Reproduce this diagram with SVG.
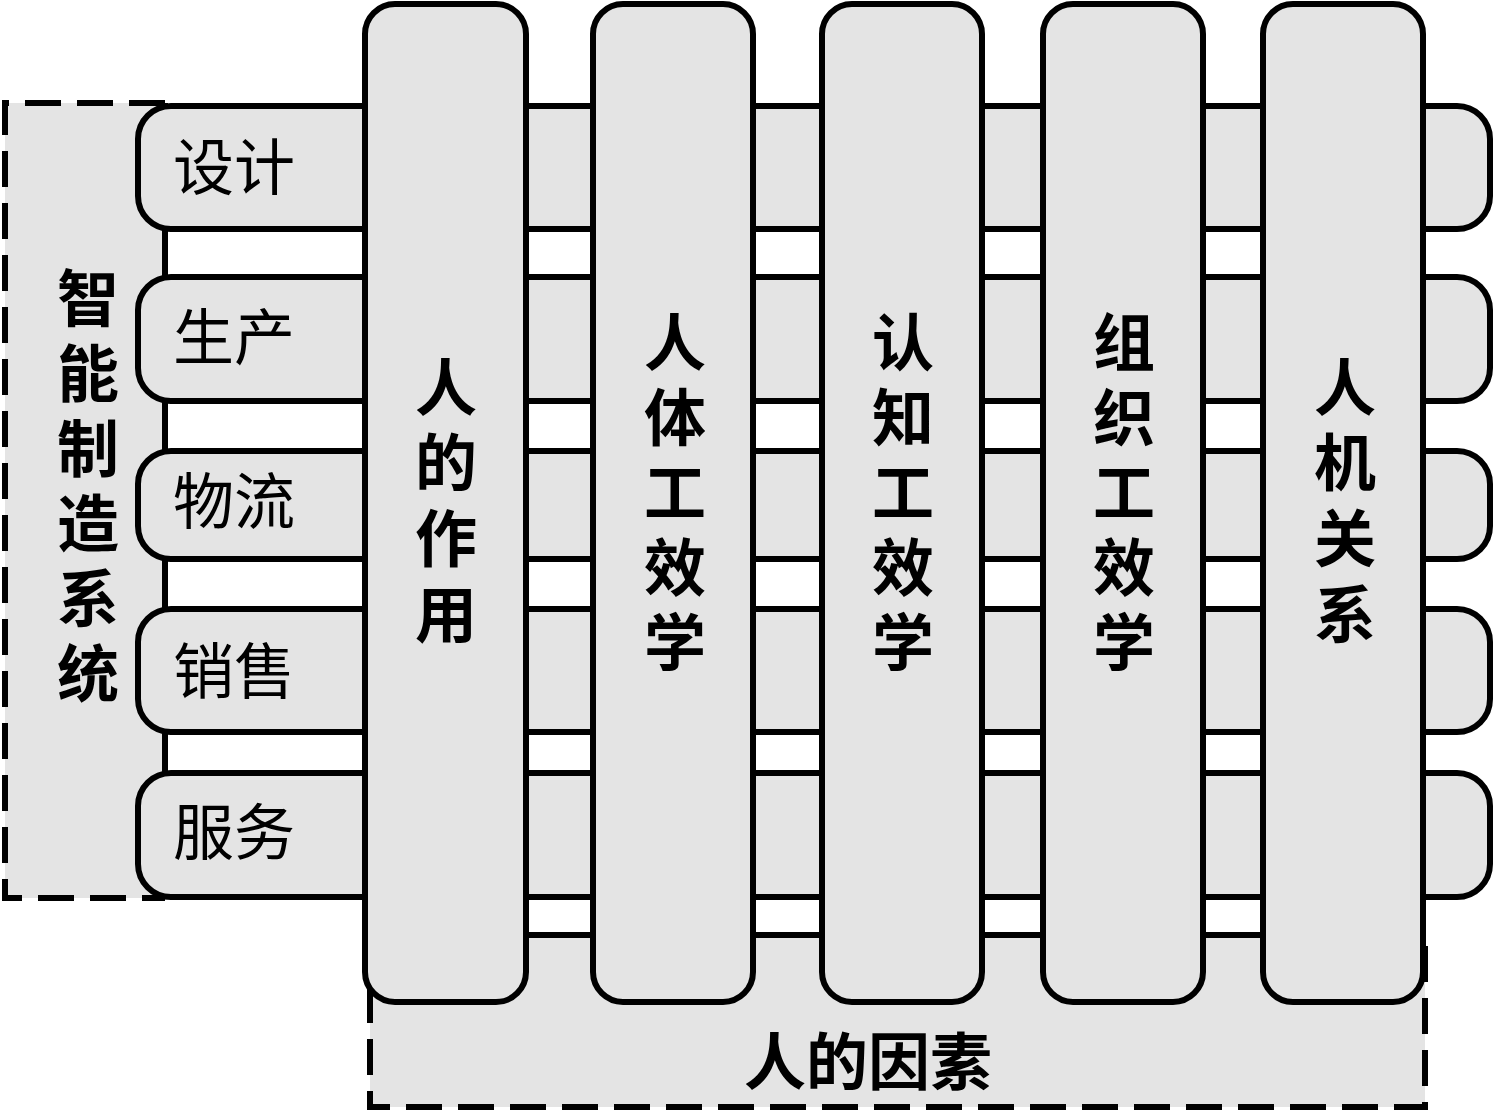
<svg xmlns="http://www.w3.org/2000/svg" width="1494" height="1111" viewBox="0 0 1494 1111">
<style>
.box{fill:#e4e4e4;stroke:#000;stroke-width:6}
.fill{fill:#e4e4e4;stroke:none}
.dash{fill:none;stroke:#000;stroke-width:6;stroke-dasharray:36 16}
.solid{fill:none;stroke:#000;stroke-width:6}
.lab{font-family:"Liberation Serif","Noto Sans CJK SC","Noto Sans CJK JP",sans-serif;font-size:61px;fill:#000;dominant-baseline:central}
.bold{font-weight:bold;font-size:62px;text-anchor:middle}
</style>
<rect width="1494" height="1111" fill="#fff"/>
<g id="system">
<rect class="fill" x="5" y="103" width="160" height="795"/>
<path class="dash" d="M165,103 H5 V898 H165"/>
<line class="solid" x1="165" y1="103" x2="165" y2="898"/>
<text class="lab bold" x="88"><tspan x="88" y="301">智</tspan><tspan x="88" y="376">能</tspan><tspan x="88" y="451">制</tspan><tspan x="88" y="526">造</tspan><tspan x="88" y="601">系</tspan><tspan x="88" y="676">统</tspan></text>
</g>
<g id="factors">
<rect class="fill" x="370" y="935" width="1055" height="172"/>
<path class="dash" d="M370,935 V1107 H1425 V935"/>
<line class="solid" x1="370" y1="935" x2="1425" y2="935"/>
<text class="lab bold" x="868" y="1064">人的因素</text>
</g>
<g id="connectors">
<g id="row-design"><rect class="box" x="138" y="106" width="1352" height="123" rx="33"/><text class="lab" x="173" y="169">设计</text></g>
<g id="row-production"><rect class="box" x="138" y="277" width="1352" height="124" rx="33"/><text class="lab" x="173" y="339">生产</text></g>
<g id="row-logistics"><rect class="box" x="138" y="451" width="1352" height="108" rx="33"/><text class="lab" x="173" y="503">物流</text></g>
<g id="row-sales"><rect class="box" x="138" y="609" width="1352" height="123" rx="33"/><text class="lab" x="173" y="673">销售</text></g>
<g id="row-service"><rect class="box" x="138" y="773" width="1352" height="124" rx="33"/><text class="lab" x="173" y="834">服务</text></g>
</g>
<g id="col-role">
<rect class="box" x="365" y="4" width="161" height="998" rx="30"/>
<text class="lab bold"><tspan x="446" y="390">人</tspan><tspan x="446" y="465">的</tspan><tspan x="446" y="541">作</tspan><tspan x="446" y="617">用</tspan></text>
</g>
<g id="col-physical">
<rect class="box" x="593" y="4" width="160" height="998" rx="30"/>
<text class="lab bold"><tspan x="675" y="345">人</tspan><tspan x="675" y="420">体</tspan><tspan x="675" y="495">工</tspan><tspan x="675" y="570">效</tspan><tspan x="675" y="645">学</tspan></text>
</g>
<g id="col-cognitive">
<rect class="box" x="822" y="4" width="160" height="998" rx="30"/>
<text class="lab bold"><tspan x="903" y="345">认</tspan><tspan x="903" y="420">知</tspan><tspan x="903" y="495">工</tspan><tspan x="903" y="570">效</tspan><tspan x="903" y="645">学</tspan></text>
</g>
<g id="col-organizational">
<rect class="box" x="1043" y="4" width="160" height="998" rx="30"/>
<text class="lab bold"><tspan x="1124" y="345">组</tspan><tspan x="1124" y="420">织</tspan><tspan x="1124" y="495">工</tspan><tspan x="1124" y="570">效</tspan><tspan x="1124" y="645">学</tspan></text>
</g>
<g id="col-hmi">
<rect class="box" x="1263" y="4" width="160" height="998" rx="30"/>
<text class="lab bold"><tspan x="1345" y="390">人</tspan><tspan x="1345" y="465">机</tspan><tspan x="1345" y="541">关</tspan><tspan x="1345" y="617">系</tspan></text>
</g>
</svg>
